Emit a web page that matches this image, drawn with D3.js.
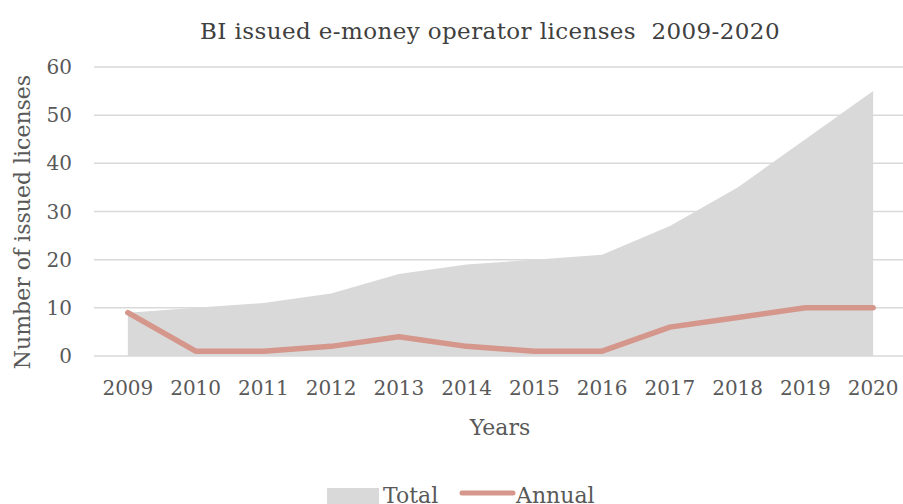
<!DOCTYPE html>
<html>
<head>
<meta charset="utf-8">
<script src="https://cdn.jsdelivr.net/npm/d3@7"></script>
<style>
  body { margin: 0; background: #fff; }
  text { font-family: "DejaVu Serif", "Liberation Serif", serif; fill: #595959; }
</style>
</head>
<body>
<div id="chart"></div>
<script>
var years = ["2009","2010","2011","2012","2013","2014","2015","2016","2017","2018","2019","2020"];
var total = [9, 10, 11, 13, 17, 19, 20, 21, 27, 35, 45, 55];
var annual = [9, 1, 1, 2, 4, 2, 1, 1, 6, 8, 10, 10];
var yTicks = [0, 10, 20, 30, 40, 50, 60];

var w = 903, h = 504;
var plotL = 94, plotR = 907, plotT = 67, plotB = 356;

var svg = d3.select("#chart").append("svg").attr("width", w).attr("height", h);

var x = d3.scalePoint().domain(years).range([plotL, plotR]).padding(0.5);
var y = d3.scaleLinear().domain([0, 60]).range([plotB, plotT]);

// gridlines
svg.append("g").selectAll("line").data(yTicks).enter().append("line")
  .attr("x1", plotL).attr("x2", w)
  .attr("y1", function(d){ return y(d); }).attr("y2", function(d){ return y(d); })
  .style("stroke", "#d9d9d9").style("stroke-width", 1.5);

// total area
var area = d3.area()
  .x(function(d, i){ return x(years[i]); })
  .y0(y(0))
  .y1(function(d){ return y(d); });
svg.append("path").datum(total).attr("d", area).style("fill", "#d9d9d9");

// annual line
var line = d3.line()
  .x(function(d, i){ return x(years[i]); })
  .y(function(d){ return y(d); });
svg.append("path").datum(annual).attr("d", line)
  .style("fill", "none").style("stroke", "#d5968b").style("stroke-width", 5.5)
  .style("stroke-linecap", "round").style("stroke-linejoin", "round");

// y axis labels
svg.append("g").selectAll("text").data(yTicks).enter().append("text")
  .attr("x", 72).attr("y", function(d){ return y(d) + 7; })
  .attr("text-anchor", "end").style("font-size", "20px")
  .text(function(d){ return d; });

// x axis labels
svg.append("g").selectAll("text").data(years).enter().append("text")
  .attr("x", function(d){ return x(d); }).attr("y", 395)
  .attr("text-anchor", "middle").style("font-size", "20px")
  .text(function(d){ return d; });

// titles
svg.append("text").attr("x", 490).attr("y", 39).attr("text-anchor", "middle")
  .style("font-size", "23px").style("letter-spacing", "0.4px").style("fill", "#404040")
  .style("white-space", "pre").style("font-weight", 500)
  .text("BI issued e-money operator licenses  2009-2020");
svg.append("text").attr("x", 500).attr("y", 435).attr("text-anchor", "middle")
  .style("font-size", "22px").text("Years");
svg.append("text").attr("transform", "translate(30,222) rotate(-90)").attr("text-anchor", "middle")
  .style("font-size", "22px").text("Number of issued licenses");

// legend
svg.append("rect").attr("x", 327).attr("y", 488).attr("width", 52).attr("height", 16).style("fill", "#d9d9d9");
svg.append("text").attr("x", 383).attr("y", 503).style("font-size", "22px").text("Total");
svg.append("line").attr("x1", 462).attr("x2", 513).attr("y1", 493).attr("y2", 493)
  .style("stroke", "#d5968b").style("stroke-width", 5).style("stroke-linecap", "round");
svg.append("text").attr("x", 516).attr("y", 503).style("font-size", "22px").text("Annual");
</script>
</body>
</html>
